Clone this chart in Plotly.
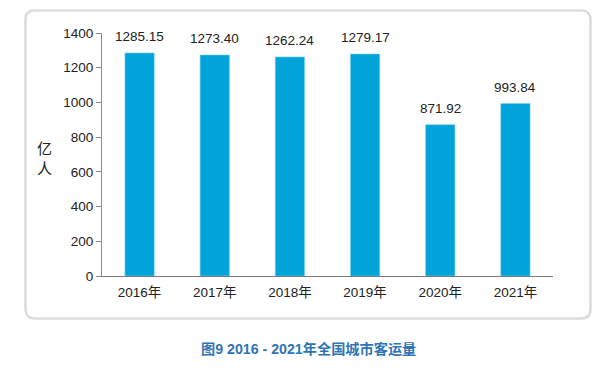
import plotly.graph_objects as go

years = ["2016年", "2017年", "2018年", "2019年", "2020年", "2021年"]
values = [1285.15, 1273.40, 1262.24, 1279.17, 871.92, 993.84]
labels = ["1285.15", "1273.40", "1262.24", "1279.17", "871.92", "993.84"]

W, H = 600, 370
L, R, T, B = 102, 47, 33, 94
pw, ph = W - L - R, H - T - B

def px(x):
    return (x - L) / pw

def py(y):
    return (H - B - y) / ph

FONT = "Liberation Sans, Arial, Noto Sans CJK SC, sans-serif"

fig = go.Figure()
fig.add_trace(go.Bar(
    x=years, y=values,
    marker=dict(color="#00A3DA", line=dict(color="#7fd0ee", width=0.6)),
    width=0.39,
    hoverinfo="skip",
))

for yr, v, lab in zip(years, values, labels):
    fig.add_annotation(x=yr, y=v, text=lab, showarrow=False, yanchor="bottom",
                       yshift=7, font=dict(family=FONT, size=13.5, color="#222222"))

# rounded frame
x0, x1, y0, y1, r = 25, 590, 10, 318, 9
def path_for(dx=0, dy=0):
    a0, a1, b0, b1 = x0 + dx, x1 + dx, y0 + dy, y1 + dy
    pts = [
        f"M {px(a0 + r)},{py(b0)}",
        f"L {px(a1 - r)},{py(b0)}",
        f"Q {px(a1)},{py(b0)} {px(a1)},{py(b0 + r)}",
        f"L {px(a1)},{py(b1 - r)}",
        f"Q {px(a1)},{py(b1)} {px(a1 - r)},{py(b1)}",
        f"L {px(a0 + r)},{py(b1)}",
        f"Q {px(a0)},{py(b1)} {px(a0)},{py(b1 - r)}",
        f"L {px(a0)},{py(b0 + r)}",
        f"Q {px(a0)},{py(b0)} {px(a0 + r)},{py(b0)}",
        "Z",
    ]
    return " ".join(pts)

fig.add_shape(type="path", xref="paper", yref="paper", path=path_for(1, 1),
              line=dict(color="#e6e6e6", width=2), layer="below")
fig.add_shape(type="path", xref="paper", yref="paper", path=path_for(),
              line=dict(color="#d2d2d2", width=1.2), layer="below")

fig.add_annotation(xref="paper", yref="paper", x=px(44), y=py(157), text="亿<br>人",
                   xanchor="center", yanchor="middle",
                   showarrow=False, font=dict(family="Noto Sans CJK SC", size=15, color="#222222"))

fig.add_annotation(xref="paper", yref="paper", x=px(308), y=py(349),
                   xanchor="center", yanchor="middle",
                   text="<b>图9 2016 - 2021年全国城市客运量</b>", showarrow=False,
                   font=dict(family="Liberation Sans, Noto Sans CJK SC", size=14.2, color="#2F75B5"))

fig.update_layout(
    width=W, height=H,
    margin=dict(l=L, r=R, t=T, b=B),
    paper_bgcolor="white", plot_bgcolor="white",
    showlegend=False,
    font=dict(family=FONT, size=13.5, color="#222222"),
    xaxis=dict(showline=True, linecolor="#7a7a7a", linewidth=1.2, ticks="",
               showgrid=False, tickfont=dict(size=13.5), ticklabelstandoff=4),
    yaxis=dict(range=[0, 1400], dtick=200, showline=True, linecolor="#8a8a8a",
               linewidth=1, ticks="outside", ticklen=5, tickcolor="#8a8a8a",
               showgrid=False, zeroline=False, tickfont=dict(size=13.5)),
)

fig.write_html("out.html")
